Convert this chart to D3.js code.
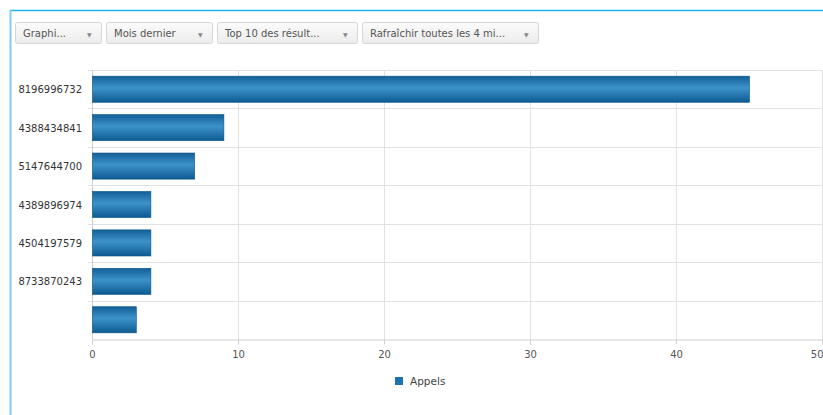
<!DOCTYPE html>
<html>
<head>
<meta charset="utf-8">
<script src="https://cdn.jsdelivr.net/npm/d3@7"></script>
<style>
  body { margin: 0; background: #fff; }
  svg { display: block; font-family: Tahoma, "DejaVu Sans", Verdana, sans-serif; }
</style>
</head>
<body>
<svg width="823" height="415"></svg>
<script>
// chart data
const categories = ["8196996732", "4388434841", "5147644700", "4389896974", "4504197579", "8733870243", ""]
const appels = [45, 9, 7, 4, 4, 4, 3]
const xTicks = [0, 10, 20, 30, 40, 50]
const seriesName = "Appels"
const filters = ["Graphi...", "Mois dernier", "Top 10 des résult...", "Rafraîchir toutes les 4 mi..."]
const filterWidths = [86, 106, 140, 176]

const svg = d3.select("svg"),
    width = +svg.attr("width"),
    height = +svg.attr("height")

const defs = svg.append("defs")
const grad = defs.append("linearGradient")
    .attr("id", "barGrad").attr("x1", 0).attr("y1", 0).attr("x2", 0).attr("y2", 1)
grad.append("stop").attr("offset", "0%").attr("stop-color", "#135f97")
grad.append("stop").attr("offset", "45%").attr("stop-color", "#3c93c9")
grad.append("stop").attr("offset", "100%").attr("stop-color", "#0d5a92")

const btnGrad = defs.append("linearGradient")
    .attr("id", "btnGrad").attr("x1", 0).attr("y1", 0).attr("x2", 0).attr("y2", 1)
btnGrad.append("stop").attr("offset", "0%").attr("stop-color", "#fbfbfb")
btnGrad.append("stop").attr("offset", "100%").attr("stop-color", "#ececec")

// panel border (top + left)
svg.append("line").attr("x1", 10).attr("x2", width).attr("y1", 10.5).attr("y2", 10.5)
    .attr("stroke", "#1fb3ef").attr("stroke-width", 1.5)
svg.append("line").attr("x1", 10.5).attr("x2", 10.5).attr("y1", 10).attr("y2", height)
    .attr("stroke", "#7ccff2").attr("stroke-width", 2)

// filter dropdowns
let bx = 15
filters.forEach((f, i) => {
    const w = filterWidths[i]
    const g = svg.append("g").attr("transform", `translate(${bx},22)`)
    g.append("rect").attr("x", 0.5).attr("y", 0.5).attr("width", w).attr("height", 21)
        .attr("rx", 2).attr("fill", "url(#btnGrad)").attr("stroke", "#d6d6d6")
    g.append("text").attr("x", 8).attr("y", 15).text(f)
        .attr("font-size", 10).attr("fill", "#555")
    g.append("text").attr("x", w - 14).attr("y", 14.5).text("▼")
        .attr("font-size", 6).attr("fill", "#888")
    bx += w + 5
})

const margin = { top: 70, right: 1, bottom: 76, left: 92 }
const x = d3.scaleLinear().domain([0, 50]).range([margin.left, width - margin.right])
const y = d3.scaleBand().domain(categories.map((c, i) => i))
    .range([margin.top, height - margin.bottom]).paddingInner(0.32).paddingOuter(0.16)

const plotTop = margin.top, plotBottom = height - margin.bottom

// horizontal row lines
const rowStep = (plotBottom - plotTop) / categories.length
svg.append("g").selectAll("line")
    .data(d3.range(categories.length))
    .enter().append("line")
    .attr("x1", margin.left - 4).attr("x2", width)
    .attr("y1", i => Math.round(plotTop + i * rowStep) + 0.5)
    .attr("y2", i => Math.round(plotTop + i * rowStep) + 0.5)
    .attr("stroke", "#e2e2e2")

// vertical grid
svg.append("g").selectAll("line")
    .data(xTicks.slice(1))
    .enter().append("line")
    .attr("x1", d => Math.round(x(d)) + 0.5).attr("x2", d => Math.round(x(d)) + 0.5)
    .attr("y1", plotTop).attr("y2", plotBottom)
    .attr("stroke", "#e2e2e2")

// left axis line
svg.append("line").attr("x1", margin.left + 0.5).attr("x2", margin.left + 0.5)
    .attr("y1", plotTop).attr("y2", plotBottom).attr("stroke", "#cfcfcf")

// bars
svg.append("g").selectAll("rect")
    .data(appels)
    .enter().append("rect")
    .attr("x", x(0) + 0.5)
    .attr("y", (d, i) => y(i))
    .attr("width", d => x(d) - x(0))
    .attr("height", y.bandwidth())
    .attr("fill", "url(#barGrad)")
    .attr("stroke", "#0d5589").attr("stroke-width", 0.6)

// category labels
svg.append("g").selectAll("text")
    .data(categories)
    .enter().append("text")
    .attr("x", margin.left - 10)
    .attr("y", (d, i) => y(i) + y.bandwidth() / 2 + 4)
    .attr("text-anchor", "end")
    .attr("font-size", 10).attr("fill", "#333")
    .text(d => d)

// x axis
const xAxis = d3.axisBottom(x).tickValues(xTicks).tickSize(5).tickPadding(6)
const ax = svg.append("g").attr("transform", `translate(0,${plotBottom + 0.5})`).call(xAxis)
ax.select(".domain").attr("stroke", "#cfcfcf")
ax.selectAll(".tick line").attr("stroke", "#cfcfcf")
ax.selectAll(".tick text").attr("font-size", 10).attr("fill", "#555")
    .attr("font-family", "Tahoma, 'DejaVu Sans', sans-serif")
// last label sits at the right edge: keep it inside the page
ax.selectAll(".tick text").filter(d => d === 50).attr("text-anchor", "end").attr("dx", 1)

// legend
const lg = svg.append("g").attr("transform", "translate(395,377)")
lg.append("rect").attr("width", 8).attr("height", 8).attr("fill", "#1a72b0")
lg.append("text").attr("x", 15).attr("y", 8).text(seriesName)
    .attr("font-size", 10.5).attr("fill", "#444")
</script>
</body>
</html>
